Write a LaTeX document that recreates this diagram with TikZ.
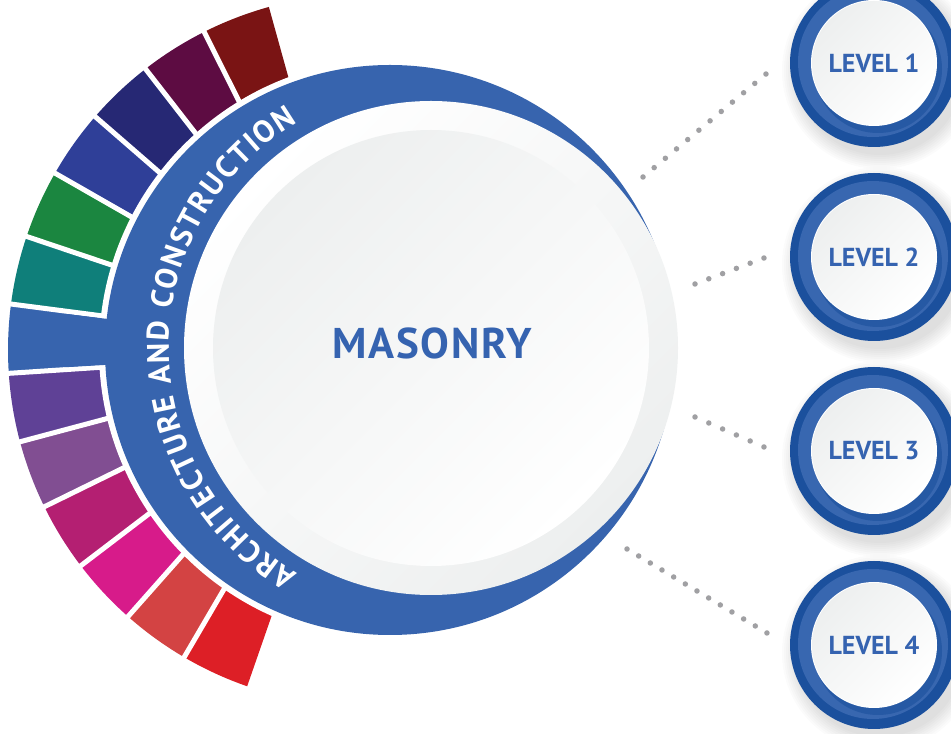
\documentclass[tikz,border=0pt]{standalone}
\usepackage{fontspec}
\setmainfont{Liberation Sans}
\newfontfamily\lvlfont{PT Sans}
\newfontfamily\masfont{PT Sans}[LetterSpace=4]
\newfontfamily\arcfont{PT Sans}
\usetikzlibrary{decorations.text,calc}
\definecolor{ringblue}{RGB}{55,100,174}
\definecolor{txtblue}{RGB}{53,99,176}
\definecolor{lvdark}{RGB}{27,80,157}
\definecolor{lvlight}{RGB}{56,103,176}
\definecolor{dotgrey}{RGB}{160,160,163}
\definecolor{panelgrey}{RGB}{237,239,239}
\definecolor{sa}{RGB}{122,20,20}
\definecolor{sb}{RGB}{93,12,66}
\definecolor{sc}{RGB}{38,40,116}
\definecolor{sd}{RGB}{47,63,152}
\definecolor{se}{RGB}{27,134,64}
\definecolor{sf}{RGB}{15,127,122}
\definecolor{sg}{RGB}{55,100,174}
\definecolor{sh}{RGB}{95,65,150}
\definecolor{si}{RGB}{129,78,146}
\definecolor{sj}{RGB}{180,31,114}
\definecolor{sk}{RGB}{215,27,138}
\definecolor{sl}{RGB}{211,67,67}
\definecolor{sm}{RGB}{221,31,38}
\tikzset{
  dotline/.style={dotgrey, line width=5.5pt, line cap=round},
  levelbtn/.style={circle, minimum size=124pt, inner sep=0pt,
    top color=panelgrey, bottom color=white, shading angle=45,
    text=txtblue, font=\lvlfont\bfseries\fontsize{26}{26}\selectfont},
  maintext/.style={text=txtblue, font=\masfont\bfseries\fontsize{43}{43}\selectfont}
}
\begin{document}
\begin{tikzpicture}[x=1pt,y=1pt]
\useasboundingbox (0,0) rectangle (951,734);
\fill[white] (0,0) rectangle (951,734);
\coordinate (C1) at (390,384);
\coordinate (C2) at (364,384);
\coordinate (W) at (431,386);
% coloured band
\foreach \col [count=\k from 0] in {sa,sb,sc,sd,se,sf,sg,sh,si,sj,sk,sl,sm}{
  \pgfmathsetmacro{\aa}{105.5+11.18*\k}
  \pgfmathsetmacro{\ab}{105.5+11.18*(\k+1)}
  \fill[\col] (C2) -- ++(\aa:356) arc[start angle=\aa, end angle=\ab, radius=356] -- cycle;
}
\foreach \k in {1,...,12}{
  \pgfmathsetmacro{\aa}{105.5+11.18*\k}
  \draw[white, line width=5pt] (C2) ++(\aa:200) -- ++(\aa:175);
}
\fill[white] (C1) circle[radius=291];
\fill[sg] (C2) -- ++(173.1:300) arc[start angle=173.1, end angle=183.3, radius=300] -- cycle;
% blue crescent
\fill[ringblue] (C1) circle[radius=285];
\shade[top color=white, bottom color=panelgrey, shading angle=45] (W) circle[radius=247];
\shade[top color=panelgrey, bottom color=white, shading angle=45] (W) circle[radius=218];
% curved text
\path[decorate, decoration={text along path, text align={fit to path},
  text={|\arcfont\bfseries\fontsize{31}{31}\selectfont\color{white}|ARCHITECTURE AND CONSTRUCTION}}]
  ($(W)+(239.5:262)$) arc[start angle=239.5, end angle=120.5, radius=262];
\node[maintext] (main) at (432,391) {MASONRY};
% level buttons
\foreach \y/\lab/\nm in {671/LEVEL 1/L1, 477/LEVEL 2/L2, 283/LEVEL 3/L3, 89/LEVEL 4/L4}{
  \foreach \r in {0,2,...,14}{
    \fill[black, opacity=0.015] (880,\y-8) circle[radius=84+\r];
  }
  \fill[lvdark] (874,\y) circle[radius=84];
  \fill[lvlight] (873,\y+1) circle[radius=75];
  \begin{scope}
    \clip (873,\y+1) circle[radius=75];
    \fill[lvdark, opacity=0.6] (878,\y-6) circle[radius=64];
  \end{scope}
  \fill[white] (874,\y) circle[radius=63];
  \node[levelbtn] (\nm) at (874,\y) {\lab};
}
% dotted connectors
\coordinate (d1a) at (643,557); \coordinate (d1b) at (766,660);
\coordinate (d2a) at (695,450); \coordinate (d2b) at (764,476);
\coordinate (d3a) at (695,317); \coordinate (d3b) at (764,287);
\coordinate (d4a) at (627,185); \coordinate (d4b) at (767,101);
\draw[dotline, dash pattern=on 0pt off 14.58pt] (d1a) -- (d1b);
\draw[dotline, dash pattern=on 0pt off 14.74pt] (d2a) -- (d2b);
\draw[dotline, dash pattern=on 0pt off 15.04pt] (d3a) -- (d3b);
\draw[dotline, dash pattern=on 0pt off 13.6pt] (d4a) -- (d4b);
\end{tikzpicture}
\end{document}
